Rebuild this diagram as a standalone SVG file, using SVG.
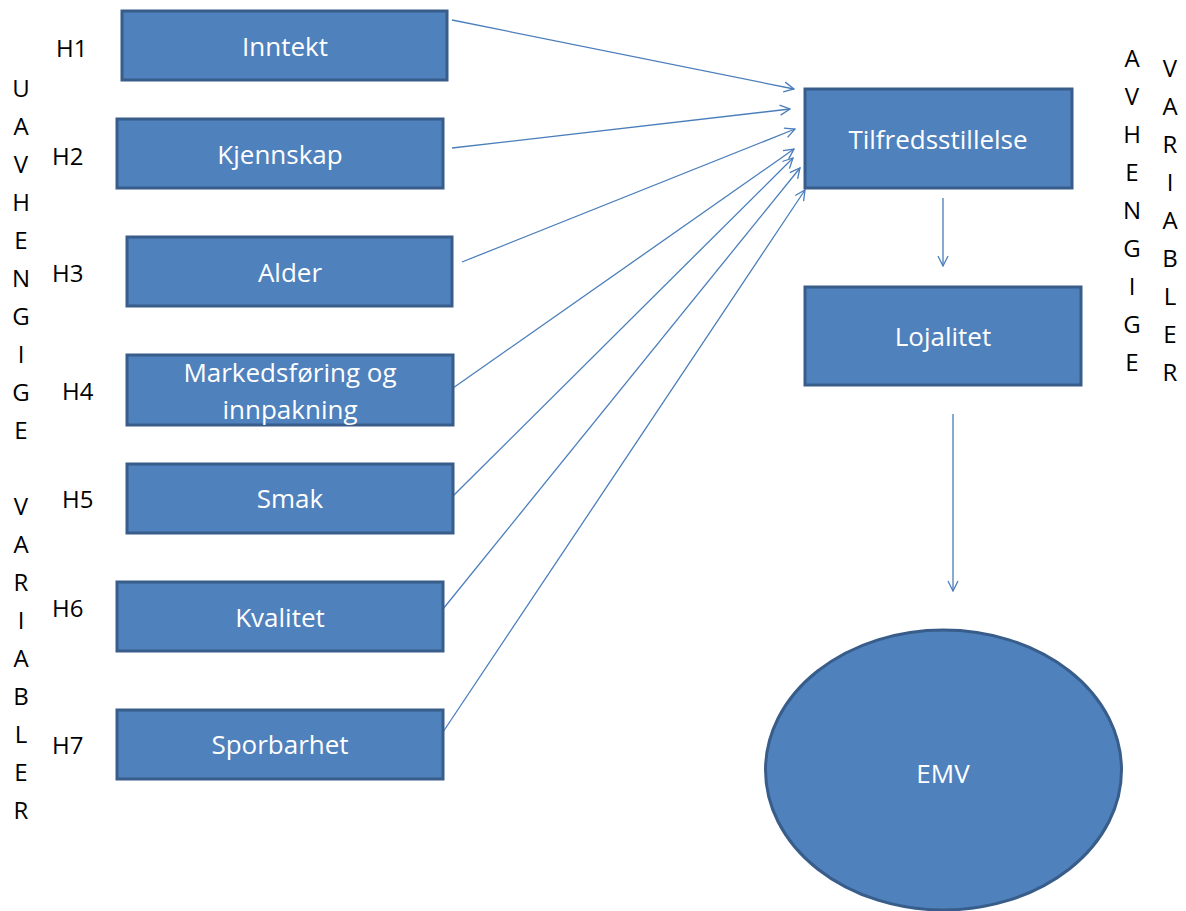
<svg xmlns="http://www.w3.org/2000/svg" width="1186" height="911" viewBox="0 0 1186 911">
<defs>
<style>
.box{fill:#4f81bd;stroke:#385d8a;stroke-width:3}
.lbl{font-family:"Open Sans","Liberation Sans",sans-serif;font-size:26px;fill:#ffffff;text-anchor:middle}
.h{font-family:"Open Sans","Liberation Sans",sans-serif;font-size:24px;fill:#000000}
.v{font-family:"Open Sans","Liberation Sans",sans-serif;font-size:24px;fill:#000000;text-anchor:middle}
.conn{stroke:#4a7ebb;stroke-width:1.3;fill:none;marker-end:url(#arr)}
</style>
<marker id="arr" viewBox="0 0 12 12" refX="11" refY="6" markerWidth="12" markerHeight="12" markerUnits="userSpaceOnUse" orient="auto">
<path d="M1,1 L11,6 L1,11" fill="none" stroke="#4a7ebb" stroke-width="1.3"/>
</marker>
</defs>
<rect width="1186" height="911" fill="#ffffff"/>

<g id="connectors">
<line class="conn" x1="452" y1="20" x2="794" y2="89"/>
<line class="conn" x1="452" y1="148" x2="790" y2="109"/>
<line class="conn" x1="462" y1="262" x2="795" y2="129"/>
<line class="conn" x1="453" y1="388" x2="794" y2="149"/>
<line class="conn" x1="453" y1="496" x2="793" y2="158"/>
<line class="conn" x1="443" y1="609" x2="800" y2="168"/>
<line class="conn" x1="443" y1="732" x2="805" y2="190"/>
<line class="conn" x1="943" y1="198" x2="943" y2="266"/>
<line class="conn" x1="953" y1="414" x2="953" y2="591"/>
</g>

<g id="inntekt"><rect class="box" x="122" y="11" width="325" height="69"/><text class="lbl" x="285" y="56">Inntekt</text></g>
<g id="kjennskap"><rect class="box" x="117" y="119" width="326" height="69"/><text class="lbl" x="280" y="164">Kjennskap</text></g>
<g id="alder"><rect class="box" x="127" y="237" width="325" height="69"/><text class="lbl" x="290" y="282">Alder</text></g>
<g id="markedsforing"><rect class="box" x="127" y="355" width="326" height="70"/><text class="lbl" x="290" y="382">Markedsføring og</text><text class="lbl" x="290" y="419">innpakning</text></g>
<g id="smak"><rect class="box" x="127" y="464" width="326" height="69"/><text class="lbl" x="290" y="508">Smak</text></g>
<g id="kvalitet"><rect class="box" x="117" y="582" width="326" height="69"/><text class="lbl" x="280" y="627">Kvalitet</text></g>
<g id="sporbarhet"><rect class="box" x="117" y="710" width="326" height="69"/><text class="lbl" x="280" y="754">Sporbarhet</text></g>
<g id="tilfredsstillelse"><rect class="box" x="805" y="89" width="267" height="99"/><text class="lbl" x="938" y="149">Tilfredsstillelse</text></g>
<g id="lojalitet"><rect class="box" x="805" y="287" width="276" height="98"/><text class="lbl" x="943" y="346">Lojalitet</text></g>
<g id="emv"><ellipse class="box" cx="943.5" cy="770" rx="178" ry="140"/><text class="lbl" x="943" y="783">EMV</text></g>

<g id="hypotheses">
<text class="h" x="56" y="57">H1</text>
<text class="h" x="52" y="165">H2</text>
<text class="h" x="52" y="282">H3</text>
<text class="h" x="62" y="400">H4</text>
<text class="h" x="62" y="508">H5</text>
<text class="h" x="52" y="617">H6</text>
<text class="h" x="52" y="754">H7</text>
</g>

<g id="left-label">
<text class="v" x="21" y="97">U</text>
<text class="v" x="21" y="135">A</text>
<text class="v" x="21" y="173">V</text>
<text class="v" x="21" y="211">H</text>
<text class="v" x="21" y="249">E</text>
<text class="v" x="21" y="287">N</text>
<text class="v" x="21" y="325">G</text>
<text class="v" x="21" y="363">I</text>
<text class="v" x="21" y="401">G</text>
<text class="v" x="21" y="439">E</text>
<text class="v" x="21" y="515">V</text>
<text class="v" x="21" y="553">A</text>
<text class="v" x="21" y="591">R</text>
<text class="v" x="21" y="629">I</text>
<text class="v" x="21" y="667">A</text>
<text class="v" x="21" y="705">B</text>
<text class="v" x="21" y="743">L</text>
<text class="v" x="21" y="781">E</text>
<text class="v" x="21" y="819">R</text>
</g>

<g id="right-label">
<text class="v" x="1132" y="67">A</text>
<text class="v" x="1132" y="105">V</text>
<text class="v" x="1132" y="143">H</text>
<text class="v" x="1132" y="181">E</text>
<text class="v" x="1132" y="219">N</text>
<text class="v" x="1132" y="257">G</text>
<text class="v" x="1132" y="295">I</text>
<text class="v" x="1132" y="333">G</text>
<text class="v" x="1132" y="371">E</text>
<text class="v" x="1170" y="77">V</text>
<text class="v" x="1170" y="115">A</text>
<text class="v" x="1170" y="153">R</text>
<text class="v" x="1170" y="191">I</text>
<text class="v" x="1170" y="229">A</text>
<text class="v" x="1170" y="267">B</text>
<text class="v" x="1170" y="305">L</text>
<text class="v" x="1170" y="343">E</text>
<text class="v" x="1170" y="381">R</text>
</g>
</svg>
